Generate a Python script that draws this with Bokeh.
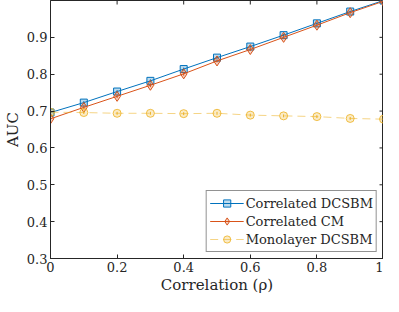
import math
from bokeh.plotting import figure
from bokeh.models import FixedTicker, Range1d, Legend, LegendItem, ColumnDataSource
from bokeh.embed import file_html
from bokeh.resources import INLINE

rho = [0.0, 0.1, 0.2, 0.3, 0.4, 0.5, 0.6, 0.7, 0.8, 0.9, 1.0]
dcsbm = [0.696, 0.723, 0.753, 0.782, 0.814, 0.845, 0.875, 0.906, 0.938, 0.970, 1.000]
cm = [0.679, 0.710, 0.740, 0.770, 0.801, 0.836, 0.867, 0.900, 0.933, 0.967, 0.998]
mono = [0.697, 0.696, 0.694, 0.694, 0.693, 0.694, 0.689, 0.687, 0.685, 0.680, 0.678]
err_dcsbm = [0.004, 0.004, 0.004, 0.004, 0.004, 0.003, 0.003, 0.003, 0.003, 0.002, 0.001]
err_cm = [0.005, 0.005, 0.005, 0.005, 0.005, 0.004, 0.004, 0.004, 0.003, 0.003, 0.001]
err_mono = [0.004, 0.004, 0.004, 0.004, 0.004, 0.004, 0.004, 0.004, 0.004, 0.004, 0.004]
names = ["Correlated DCSBM", "Correlated CM", "Monolayer DCSBM"]
x_ticks = [0, 0.2, 0.4, 0.6, 0.8, 1]
y_ticks = [0.3, 0.4, 0.5, 0.6, 0.7, 0.8, 0.9]
x_min, x_max, y_min, y_max = 0, 1, 0.3, 1.0

FONT = "DejaVu Serif"
AX = "#262626"

p = figure(width=383, height=296, output_backend="svg", toolbar_location=None,
           x_range=Range1d(x_min, x_max), y_range=Range1d(y_min, y_max),
           min_border_left=42, min_border_right=0, min_border_top=0, min_border_bottom=34)
p.xgrid.visible = False
p.ygrid.visible = False
p.outline_line_color = AX
p.outline_line_width = 1

for ax in [p.xaxis[0], p.yaxis[0]]:
    ax.axis_line_color = AX
    ax.major_tick_in = 4
    ax.major_tick_out = 0
    ax.minor_tick_line_color = None
    ax.major_tick_line_color = AX
    ax.major_label_text_font = FONT
    ax.major_label_text_font_size = "13px"
    ax.major_label_text_color = AX
    ax.axis_label_text_font = FONT
    ax.axis_label_text_font_size = "15px"
    ax.axis_label_text_font_style = "normal"
    ax.axis_label_text_color = AX

p.xaxis.ticker = FixedTicker(ticks=x_ticks)
p.yaxis.ticker = FixedTicker(ticks=y_ticks)
p.xaxis.major_label_overrides = {0: "0", 1: "1"}
p.xaxis.axis_label = "Correlation (ρ)"
p.yaxis.axis_label = "AUC"
p.xaxis.axis_label_standoff = 1
p.yaxis.axis_label_standoff = 2
p.xaxis.major_label_standoff = 3
p.yaxis.major_label_standoff = 3

# inward tick marks on the top and right edges of the box
p.scatter(x=[x_max] * len(y_ticks), y=y_ticks, marker="dash", size=8,
          line_color=AX, line_width=1)
p.scatter(x=x_ticks, y=[y_max] * len(x_ticks), marker="dash", size=8, angle=math.pi / 2,
          line_color=AX, line_width=1)

colors = ["#0072BD", "#D95319", "#EDB120"]
series = [dcsbm, cm, mono]
errs = [err_dcsbm, err_cm, err_mono]
markers = ["square", "diamond", "circle"]
sizes = [7, 10, 8]
items = []
for ys, er, c, m, s, name in zip(series, errs, colors, markers, sizes, names):
    dashed = (name == "Monolayer DCSBM")
    la = 0.55 if dashed else 1.0
    src = ColumnDataSource(dict(x=rho, y=ys,
                                lo=[a - b for a, b in zip(ys, er)],
                                hi=[a + b for a, b in zip(ys, er)]))
    ln = p.line("x", "y", source=src, line_color=c, line_width=1,
                line_dash="8 5" if dashed else "solid", line_alpha=la)
    p.segment("x", "lo", "x", "hi", source=src, line_color=c, line_width=1)
    sc = p.scatter("x", "y", source=src, marker=m, size=s, line_color=c,
                   fill_color=c, fill_alpha=0.25, line_width=1,
                   line_alpha=0.8 if dashed else 1.0)
    items.append(LegendItem(label=name, renderers=[ln, sc]))

legend = Legend(items=items, location="bottom_right",
                label_text_font=FONT, label_text_font_size="13px",
                label_text_color=AX, border_line_color=AX, border_line_width=1,
                spacing=-2, padding=3, margin=6, glyph_width=34, glyph_height=18,
                label_standoff=2, label_height=17)
p.add_layout(legend)

open("out.html", "w").write(file_html(p, INLINE))
